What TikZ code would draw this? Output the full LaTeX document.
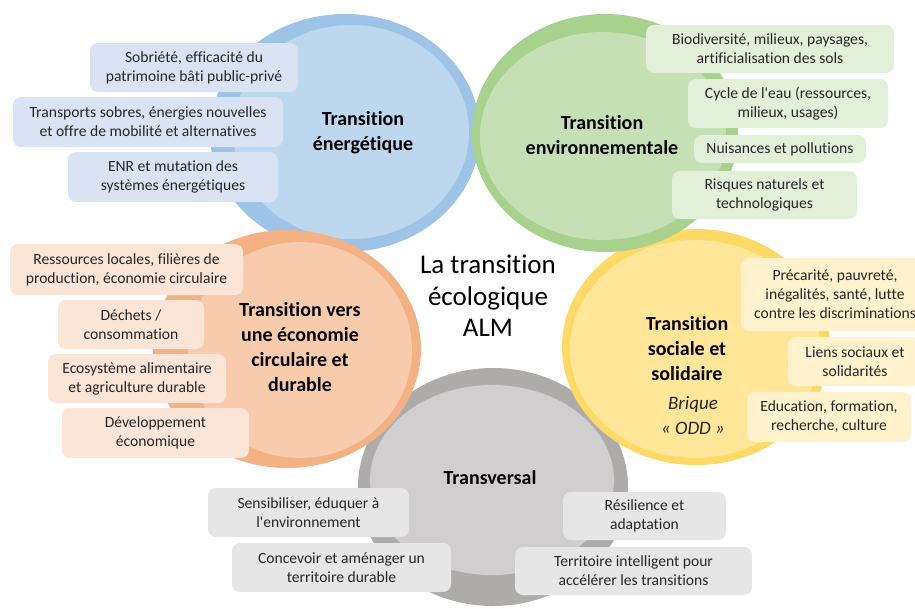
\documentclass[tikz,border=0pt]{standalone}
\usepackage{fontspec}
\setmainfont{Carlito}[Ligatures=NoCommon]
\usepackage{tikz}

\definecolor{blueOut}{HTML}{9DC3E6}
\definecolor{blueIn}{HTML}{BDD7EE}
\definecolor{blueBox}{HTML}{DAE3F3}
\definecolor{greenOut}{HTML}{A9D18E}
\definecolor{greenIn}{HTML}{C5E0B4}
\definecolor{greenBox}{HTML}{E2F0D9}
\definecolor{orangeOut}{HTML}{F4B183}
\definecolor{orangeIn}{HTML}{F8CBAD}
\definecolor{orangeBox}{HTML}{FBE5D6}
\definecolor{yellowOut}{HTML}{FFD966}
\definecolor{yellowIn}{HTML}{FFE699}
\definecolor{yellowBox}{HTML}{FFF2CC}
\definecolor{greyOut}{HTML}{AEABAB}
\definecolor{greyIn}{HTML}{D0CECE}
\definecolor{greyBox}{HTML}{E7E6E6}
\definecolor{boxText}{HTML}{262626}

\begin{document}
\begin{tikzpicture}[x=1pt,y=-1pt,
  boxe/.style={rounded corners=8pt,inner sep=0pt,align=center,text=boxText,
    font=\fontsize{15.6}{19}\selectfont},
  titre/.style={align=center,text=black,font=\fontsize{20}{25}\selectfont\bfseries}]

\useasboundingbox (0,0) rectangle (915,608);
\clip (0,0) rectangle (915,608);

% circles, back to front:
\fill[greyOut] (493,487) ellipse [x radius=135pt,y radius=119pt];
\fill[greyIn] (492,480) ellipse [x radius=122pt,y radius=95pt];
\fill[yellowOut] (696,347) ellipse [x radius=134pt,y radius=118pt];
\fill[yellowIn] (695,349) ellipse [x radius=125pt,y radius=109pt];
\fill[blueOut] (345,133) ellipse [x radius=135pt,y radius=119pt];
\fill[blueIn] (351,132) ellipse [x radius=118pt,y radius=107pt];
\fill[greenOut] (605,133) ellipse [x radius=133pt,y radius=119pt];
\fill[greenIn] (603,136) ellipse [x radius=123pt,y radius=104pt];
\fill[orangeOut] (287,349) ellipse [x radius=134pt,y radius=119pt];
\fill[orangeIn] (300,350) ellipse [x radius=112pt,y radius=108pt];

% boxes:
\node[boxe,fill=blueBox,minimum width=208pt,minimum height=49pt] (nrj1) at (194,67.5) {Sobriété, efficacité du\\patrimoine bâti public-privé};
\node[boxe,fill=blueBox,minimum width=270pt,minimum height=50pt] (nrj2) at (148,122) {Transports sobres, énergies nouvelles\\et offre de mobilité et alternatives};
\node[boxe,fill=blueBox,minimum width=210pt,minimum height=50pt] (nrj3) at (173,177) {ENR et mutation des\\systèmes énergétiques};

\node[boxe,fill=greenBox,minimum width=248pt,minimum height=48pt] (env1) at (770,49) {Biodiversité, milieux, paysages,\\artificialisation des sols};
\node[boxe,fill=greenBox,minimum width=200pt,minimum height=49pt] (env2) at (788,103.5) {Cycle de l\textquotesingle eau (ressources,\\milieux, usages)};
\node[boxe,fill=greenBox,minimum width=172pt,minimum height=28pt] (env3) at (780,149) {Nuisances et pollutions};
\node[boxe,fill=greenBox,minimum width=185pt,minimum height=48pt] (env4) at (764.5,195) {Risques naturels et\\technologiques};

\node[boxe,fill=orangeBox,minimum width=233pt,minimum height=51pt] (eco1) at (126.5,269.5) {Ressources locales, filières de\\production, économie circulaire};
\node[boxe,fill=orangeBox,minimum width=146pt,minimum height=49pt] (eco2) at (131,324.5) {Déchets /\\consommation};
\node[boxe,fill=orangeBox,minimum width=178pt,minimum height=49pt] (eco3) at (137,378.5) {Ecosystème alimentaire\\et agriculture durable};
\node[boxe,fill=orangeBox,minimum width=187pt,minimum height=50pt] (eco4) at (155.5,433) {Développement\\économique};

\node[boxe,fill=yellowBox,minimum width=188pt,minimum height=73pt] (soc1) at (835,294.5) {Précarité, pauvreté,\\inégalités, santé, lutte\\contre les discriminations};
\node[boxe,fill=yellowBox,minimum width=134pt,minimum height=49pt] (soc2) at (855,361.5) {Liens sociaux et\\solidarités};
\node[boxe,fill=yellowBox,minimum width=164pt,minimum height=50pt] (soc3) at (829,417) {Education, formation,\\recherche, culture};

\node[boxe,fill=greyBox,minimum width=201pt,minimum height=49pt] (tr1) at (308.5,512.5) {Sensibiliser, éduquer à\\l\textquotesingle environnement};
\node[boxe,fill=greyBox,minimum width=219pt,minimum height=49pt] (tr2) at (341.5,567.5) {Concevoir et aménager un\\territoire durable};
\node[boxe,fill=greyBox,minimum width=163pt,minimum height=48pt] (tr3) at (644.5,516) {Résilience et\\adaptation};
\node[boxe,fill=greyBox,minimum width=237pt,minimum height=48pt] (tr4) at (633.5,571) {Territoire intelligent pour\\accélérer les transitions};

% titles:
\node[titre] (energie) at (363,133) {Transition\\énergétique};
\node[titre] (environ) at (602,135) {Transition\\environnementale};
\node[titre] (economie) at (300,347) {Transition vers\\une économie\\circulaire et\\durable};
\node[titre] (social) at (687,349) {Transition\\sociale et\\solidaire};
\node[align=center,font=\fontsize{19}{25}\selectfont\itshape,text=boxText] (brique) at (693,416) {Brique\\« ODD »};
\node[titre] (transv) at (490,478) {Transversal};
\node[align=center,font=\fontsize{27}{31.5}\selectfont] (centre) at (488,296) {La transition\\écologique\\ALM};

\end{tikzpicture}
\end{document}
